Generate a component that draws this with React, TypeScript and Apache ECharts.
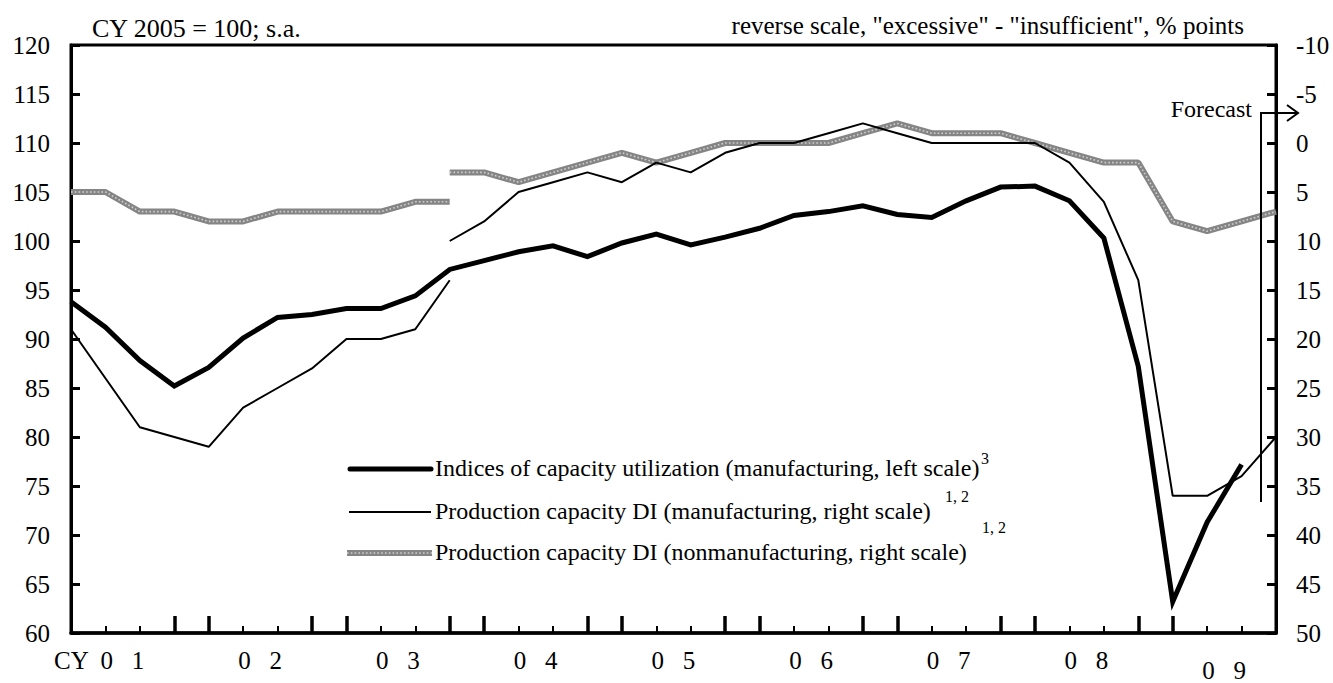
import React, { useEffect, useRef } from "react";
import * as echarts from "echarts";

const quarters = [
  "2001Q1", "2001Q2", "2001Q3", "2001Q4",
  "2002Q1", "2002Q2", "2002Q3", "2002Q4",
  "2003Q1", "2003Q2", "2003Q3", "2003Q4",
  "2004Q1", "2004Q2", "2004Q3", "2004Q4",
  "2005Q1", "2005Q2", "2005Q3", "2005Q4",
  "2006Q1", "2006Q2", "2006Q3", "2006Q4",
  "2007Q1", "2007Q2", "2007Q3", "2007Q4",
  "2008Q1", "2008Q2", "2008Q3", "2008Q4",
  "2009Q1", "2009Q2", "2009Q3", "2009Q4",
];

const yearTickLabels = ["0   1", "0   2", "0   3", "0   4", "0   5", "0   6", "0   7", "0   8", "0   9"];

// Indices of capacity utilization (manufacturing), left scale
const capacityUtilization = [
  93.8, 91.2, 87.8, 85.2, 87.1, 90.1, 92.2, 92.5, 93.1, 93.1, 94.4, 97.1,
  98.0, 98.9, 99.5, 98.4, 99.8, 100.7, 99.6, 100.4, 101.3, 102.6, 103.0, 103.6,
  102.7, 102.4, 104.1, 105.5, 105.6, 104.1, 100.3, 87.2, 63.2, 71.3, 77.2, null,
];

// Production capacity DI (manufacturing), right scale; old basis from 2001Q1, new basis from 2003Q4
const mfgDIOld = [19, 24, 29, 30, 31, 27, 25, 23, 20, 20, 19, 14];
const mfgDINew = [10, 8, 5, 4, 3, 4, 2, 3, 1, 0, 0, -1, -2, -1, 0, 0, 0, 0, 2, 6, 14, 36, 36, 34, 30];

// Production capacity DI (nonmanufacturing), right scale
const nonMfgDIOld = [5, 5, 7, 7, 8, 8, 7, 7, 7, 7, 6, 6];
const nonMfgDINew = [3, 3, 4, 3, 2, 1, 2, 1, 0, 0, 0, 0, -1, -2, -1, -1, -1, 0, 1, 2, 2, 8, 9, 8, 7];

const OLD_START = 0;
const NEW_START = 11;

const FONT = "'Liberation Serif', 'Times New Roman', serif";

function place(values: number[], start: number) {
  const out: (number | null)[] = quarters.map(() => null);
  values.forEach((v, i) => {
    out[start + i] = v;
  });
  return out;
}

const GRAY_OUT = "#858585";
const GRAY_IN = "#cfcfcf";

export default function App() {
  const ref = useRef<HTMLDivElement>(null);

  useEffect(() => {
    if (!ref.current) return;
    const chart = echarts.init(ref.current, undefined, { renderer: "svg" });

    const grayOuter = (name: string, data: (number | null)[]) => ({
      name,
      type: "line",
      xAxisIndex: 0,
      yAxisIndex: 1,
      data,
      symbol: "none",
      z: 2,
      lineStyle: { color: GRAY_OUT, width: 6 },
    });
    const grayInner = (name: string, data: (number | null)[]) => ({
      name,
      type: "line",
      xAxisIndex: 0,
      yAxisIndex: 1,
      data,
      symbol: "none",
      z: 3,
      lineStyle: { color: GRAY_IN, width: 1.6, type: [1.6, 2.2] },
    });

    const option: any = {
      animation: false,
      backgroundColor: "#ffffff",
      textStyle: { fontFamily: FONT, color: "#000" },
      grid: {
        left: 71,
        right: 57,
        top: 45,
        bottom: 50,
        show: true,
        borderColor: "#000",
        borderWidth: 3,
        backgroundColor: "transparent",
      },
      xAxis: [
        {
          type: "category",
          data: quarters,
          boundaryGap: false,
          position: "bottom",
          axisLine: { show: true, onZero: false, lineStyle: { color: "#000", width: 3.5 } },
          axisTick: { show: true, inside: true, length: 7, interval: 0, lineStyle: { color: "#000", width: 2 } },
          axisLabel: {
            show: true,
            interval: (i: number) => i % 4 === 1,
            formatter: (_v: string, i: number) => {
              const lab = yearTickLabels[Math.floor(i / 4)];
              return i >= 32 ? `{low|${lab}}` : lab;
            },
            rich: {
              low: { fontFamily: FONT, fontSize: 25, color: "#000", padding: [10, 0, 0, 0] },
            },
            margin: 15,
            fontSize: 25,
            fontFamily: FONT,
            color: "#000",
            align: "center",
            padding: [0, 0, 0, 34],
          },
          splitLine: { show: false },
        },
        {
          type: "category",
          data: quarters,
          boundaryGap: false,
          position: "bottom",
          axisLine: { show: false, onZero: false },
          axisTick: {
            show: true,
            inside: true,
            length: 17,
            interval: (i: number) => (i % 4 === 3 || i % 4 === 0) && i > 0 && i < quarters.length - 1,
            lineStyle: { color: "#000", width: 3.5 },
          },
          axisLabel: { show: false },
          splitLine: { show: false },
        },
      ],
      yAxis: [
        {
          type: "value",
          min: 60,
          max: 120,
          interval: 5,
          position: "left",
          axisLine: { show: true, onZero: false, lineStyle: { color: "#000", width: 3 } },
          axisTick: { show: true, inside: true, length: 9, lineStyle: { color: "#000", width: 3 } },
          axisLabel: { fontSize: 25, fontFamily: FONT, color: "#000", margin: 21 },
          splitLine: { show: false },
        },
        {
          type: "value",
          min: -10,
          max: 50,
          interval: 5,
          inverse: true,
          position: "right",
          axisLine: { show: true, onZero: false, lineStyle: { color: "#000", width: 3 } },
          axisTick: { show: true, inside: true, length: 9, lineStyle: { color: "#000", width: 3 } },
          axisLabel: { fontSize: 25, fontFamily: FONT, color: "#000", margin: 20 },
          splitLine: { show: false },
        },
      ],
      series: [
        grayOuter("Production capacity DI (nonmanufacturing, right scale)", place(nonMfgDIOld, OLD_START)),
        grayInner("Production capacity DI (nonmanufacturing, right scale)", place(nonMfgDIOld, OLD_START)),
        grayOuter("Production capacity DI (nonmanufacturing, right scale)", place(nonMfgDINew, NEW_START)),
        grayInner("Production capacity DI (nonmanufacturing, right scale)", place(nonMfgDINew, NEW_START)),
        {
          name: "Production capacity DI (manufacturing, right scale)",
          type: "line",
          xAxisIndex: 0,
          yAxisIndex: 1,
          data: place(mfgDIOld, OLD_START),
          symbol: "none",
          z: 4,
          lineStyle: { color: "#000", width: 2 },
        },
        {
          name: "Production capacity DI (manufacturing, right scale)",
          type: "line",
          xAxisIndex: 0,
          yAxisIndex: 1,
          data: place(mfgDINew, NEW_START),
          symbol: "none",
          z: 4,
          lineStyle: { color: "#000", width: 2 },
        },
        {
          name: "Indices of capacity utilization (manufacturing, left scale)",
          type: "line",
          xAxisIndex: 0,
          yAxisIndex: 0,
          data: capacityUtilization,
          symbol: "none",
          z: 5,
          lineStyle: { color: "#000", width: 5, join: "miter" },
        },
      ],
      graphic: [
        {
          type: "text",
          left: 92,
          top: 15,
          style: { text: "CY 2005 = 100; s.a.", fontSize: 26, fontFamily: FONT, fill: "#000" },
        },
        {
          type: "text",
          right: 89,
          top: 13,
          style: {
            text: 'reverse scale, "excessive" - "insufficient", % points',
            fontSize: 25,
            fontFamily: FONT,
            fill: "#000",
          },
        },
        {
          type: "text",
          left: 54,
          top: 648,
          style: { text: "CY", fontSize: 25, fontFamily: FONT, fill: "#000" },
        },
        // Forecast marker
        {
          type: "text",
          right: 81,
          top: 97,
          style: { text: "Forecast", fontSize: 24, fontFamily: FONT, fill: "#000" },
        },
        {
          type: "polyline",
          shape: { points: [[1261, 502], [1261, 113], [1298, 113]] },
          style: { stroke: "#000", lineWidth: 2, fill: "none" },
          z: 10,
        },
        {
          type: "polyline",
          shape: { points: [[1287, 105], [1298, 113], [1287, 121]] },
          style: { stroke: "#000", lineWidth: 2, fill: "none" },
          z: 10,
        },
        // Legend
        {
          type: "line",
          shape: { x1: 350, y1: 469, x2: 431, y2: 469 },
          style: { stroke: "#000", lineWidth: 5, lineCap: "round" },
        },
        {
          type: "text",
          left: 435,
          top: 456,
          style: {
            text: "Indices of capacity utilization (manufacturing, left scale)",
            fontSize: 24,
            fontFamily: FONT,
            fill: "#000",
          },
        },
        {
          type: "text",
          left: 981,
          top: 450,
          style: { text: "3", fontSize: 16, fontFamily: FONT, fill: "#000" },
        },
        {
          type: "line",
          shape: { x1: 349, y1: 512, x2: 431, y2: 512 },
          style: { stroke: "#000", lineWidth: 2 },
        },
        {
          type: "text",
          left: 435,
          top: 499,
          style: {
            text: "Production capacity DI (manufacturing, right scale)",
            fontSize: 24,
            fontFamily: FONT,
            fill: "#000",
          },
        },
        {
          type: "text",
          left: 945,
          top: 488,
          style: { text: "1, 2", fontSize: 16, fontFamily: FONT, fill: "#000" },
        },
        {
          type: "line",
          shape: { x1: 347, y1: 553, x2: 432, y2: 553 },
          style: { stroke: GRAY_OUT, lineWidth: 6 },
        },
        {
          type: "line",
          shape: { x1: 347, y1: 553, x2: 432, y2: 553 },
          style: { stroke: GRAY_IN, lineWidth: 1.6, lineDash: [1.6, 2.2] },
        },
        {
          type: "text",
          left: 435,
          top: 540,
          style: {
            text: "Production capacity DI (nonmanufacturing, right scale)",
            fontSize: 24,
            fontFamily: FONT,
            fill: "#000",
          },
        },
        {
          type: "text",
          left: 982,
          top: 519,
          style: { text: "1, 2", fontSize: 16, fontFamily: FONT, fill: "#000" },
        },
      ],
    };

    chart.setOption(option);
    return () => {
      chart.dispose();
    };
  }, []);

  return (
    <div
      ref={ref}
      style={{ position: "fixed", left: 0, top: 0, width: 1333, height: 683, background: "#fff" }}
    />
  );
}
